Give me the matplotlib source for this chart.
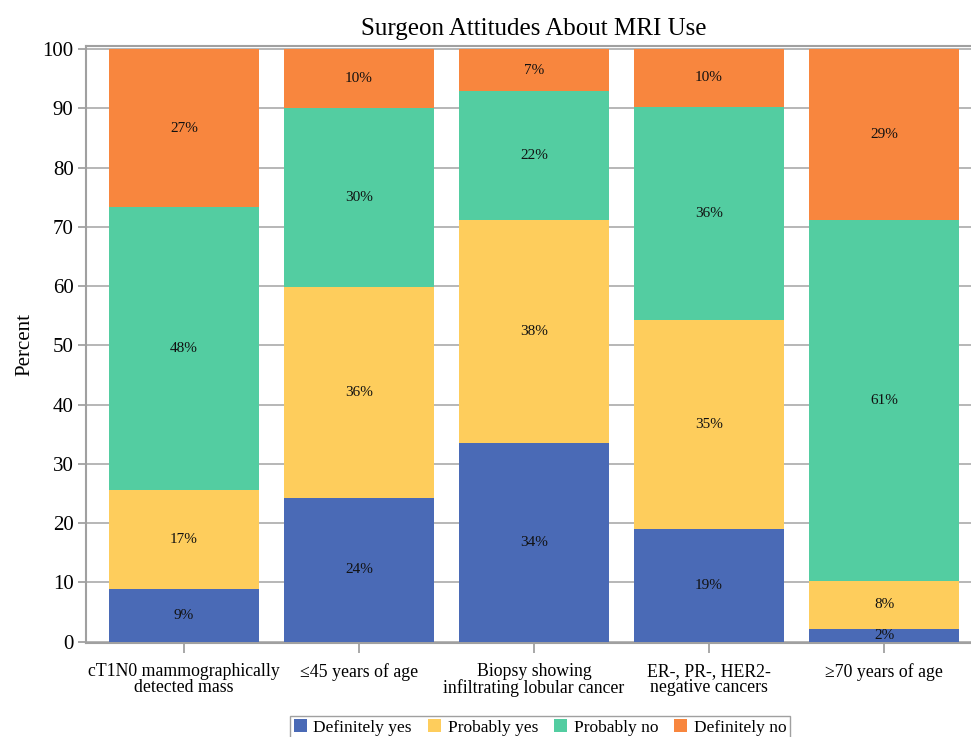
import numpy as np
import matplotlib
matplotlib.use("Agg")
import matplotlib.pyplot as plt

categories = ["cT1N0 mammographically\ndetected mass", "\u226445 years of age",
              "Biopsy showing\ninfiltrating lobular cancer", "ER-, PR-, HER2-\nnegative cancers",
              "\u226570 years of age"]
definitely_yes = [8.8, 24.3, 33.6, 19.0, 2.1]
probably_yes = [16.7, 35.6, 37.6, 35.3, 8.2]
probably_no = [47.8, 30.2, 21.7, 36.0, 60.9]
definitely_no = [26.7, 9.9, 7.1, 9.7, 28.8]

series = [("Definitely yes", definitely_yes, "#4a6ab6"),
          ("Probably yes", probably_yes, "#fecd5c"),
          ("Probably no", probably_no, "#53cda1"),
          ("Definitely no", definitely_no, "#f8863e")]

plt.rcParams["font.family"] = ["Liberation Serif", "DejaVu Serif"]

fig = plt.figure(figsize=(9.71, 7.37), dpi=100)
ax = fig.add_axes([0.0886, 0.1271, 0.9228, 0.811])

x = np.arange(len(categories))
bottom = np.zeros(len(categories))
for name, vals, color in series:
    vals = np.array(vals)
    ax.bar(x, vals, 0.857, bottom=bottom, color=color, label=name, zorder=3)
    for xi, b, v in zip(x, bottom, vals):
        ax.text(xi, b + v / 2, f"{round(v)}%", ha="center", va="center",
                fontsize=11, color="#111111", zorder=4)
    bottom += vals

ax.set_xlim(-0.56, 4.56)
ax.set_ylim(-0.3, 100.6)
ax.set_yticks(range(0, 101, 10))
ax.set_xticks(x)
ax.set_xticklabels(categories, fontsize=12.8, linespacing=0.95)
ax.tick_params(axis="y", labelsize=15, length=6, color="#999999", width=1.2, pad=3)
ax.tick_params(axis="x", length=7, color="#999999", width=1.2, pad=7)
ax.yaxis.grid(True, color="#aaaaaa", linewidth=1.2, zorder=0)
for s in ax.spines.values():
    s.set_color("#a0a0a0")
    s.set_linewidth(1.5)
ax.set_ylabel("Percent", fontsize=15, labelpad=6)
ax.set_title("Surgeon Attitudes About MRI Use", fontsize=18, pad=8)

leg = fig.legend(loc="upper center", bbox_to_anchor=(0.556, 0.029), ncol=4, fontsize=12.5,
                 frameon=True, fancybox=False, edgecolor="#888888", handlelength=0.75,
                 handleheight=0.75, handletextpad=0.4, columnspacing=0.9, borderpad=0.2,
                 borderaxespad=0)
leg.get_frame().set_linewidth(1.0)

fig.savefig("out.png", dpi=100)
